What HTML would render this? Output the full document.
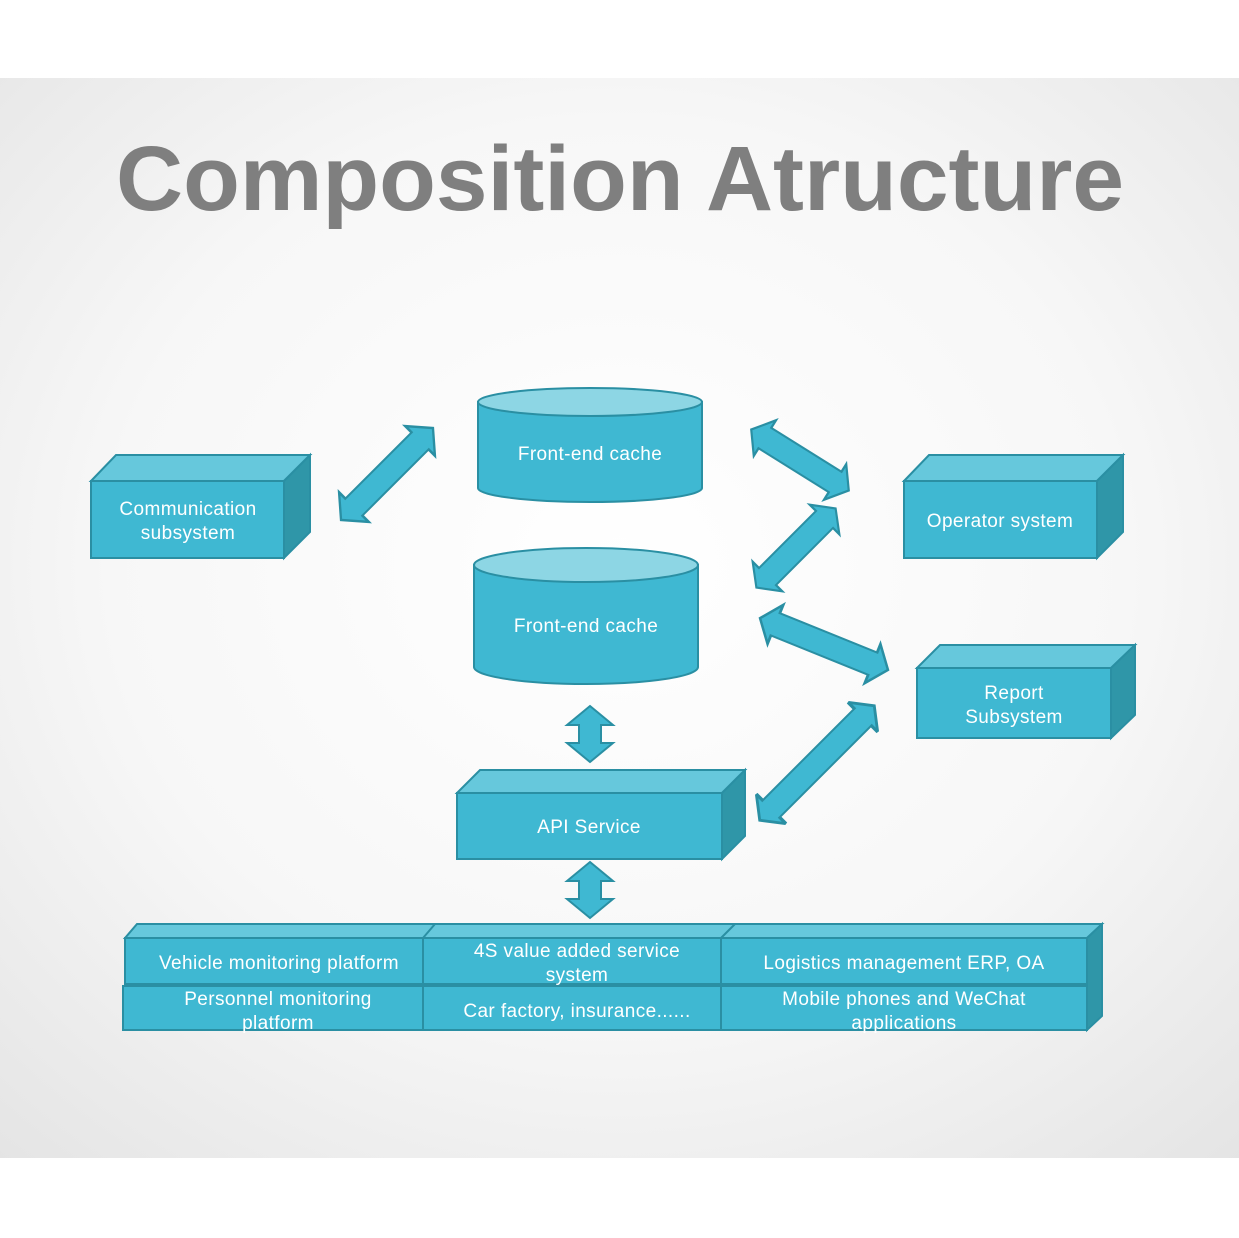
<!DOCTYPE html>
<html><head><meta charset="utf-8"><style>
html,body{margin:0;padding:0;background:#fff}
svg{display:block}
text{font-family:"Liberation Sans",sans-serif;fill:#fff;letter-spacing:0.4px}
</style></head><body>
<svg width="1239" height="1238" viewBox="0 0 1239 1238" xmlns="http://www.w3.org/2000/svg">
<defs>
<radialGradient id="bg" cx="0.5" cy="0.45" r="0.75">
<stop offset="0" stop-color="#ffffff"/><stop offset="0.55" stop-color="#f7f7f7"/><stop offset="1" stop-color="#e4e4e4"/>
</radialGradient>
</defs>
<rect x="0" y="78" width="1239" height="1080" fill="url(#bg)"/>
<text x="620" y="210" text-anchor="middle" font-size="92" font-weight="bold" style="fill:#7f7f7f;letter-spacing:0" textLength="1008" lengthAdjust="spacingAndGlyphs">Composition Atructure</text>

<g fill="#3fb8d2" stroke="#2a8fa3" stroke-width="2">
<polygon transform="translate(387,474) rotate(-45) scale(1.3,1)" points="-50,0 -36,-21 -36,-12 36,-12 36,-21 50,0 36,21 36,12 -36,12 -36,21"/>
<polygon transform="translate(800,460) rotate(32) scale(1.15,1)" points="-50,0 -36,-21 -36,-12 36,-12 36,-21 50,0 36,21 36,12 -36,12 -36,21"/>
<polygon transform="translate(796,548) rotate(-45) scale(1.12,1)" points="-50,0 -36,-21 -36,-12 36,-12 36,-21 50,0 36,21 36,12 -36,12 -36,21"/>
<polygon transform="translate(824,644) rotate(22) scale(1.38,1)" points="-50,0 -38,-21 -38,-12 38,-12 38,-21 50,0 38,21 38,12 -38,12 -38,21"/>
<polygon transform="translate(817,763) rotate(-45) scale(1.62,1)" points="-50,0 -40,-21 -40,-12 40,-12 40,-21 50,0 40,21 40,12 -40,12 -40,21"/>
<polygon points="590,706 613,725 601,725 601,743 613,743 590,762 567,743 579,743 579,725 567,725"/>
<polygon points="590,862 613,881 601,881 601,899 613,899 590,918 567,899 579,899 579,881 567,881"/>

<polygon points="91,481 116,455 310,455 284,481" fill="#66c8dc"/>
<polygon points="284,481 310,455 310,532 284,558" fill="#2f96a8"/>
<rect x="91" y="481" width="193" height="77"/>
<polygon points="904,481 929,455 1123,455 1097,481" fill="#66c8dc"/>
<polygon points="1097,481 1123,455 1123,532 1097,558" fill="#2f96a8"/>
<rect x="904" y="481" width="193" height="77"/>
<polygon points="917,668 940,645 1135,645 1111,668" fill="#66c8dc"/>
<polygon points="1111,668 1135,645 1135,715 1111,738" fill="#2f96a8"/>
<rect x="917" y="668" width="194" height="70"/>
<polygon points="457,793 480,770 745,770 722,793" fill="#66c8dc"/>
<polygon points="722,793 745,770 745,836 722,859" fill="#2f96a8"/>
<rect x="457" y="793" width="265" height="66"/>

<path d="M478,402 L478,488 A112,14 0 0 0 702,488 L702,402 Z"/>
<ellipse cx="590" cy="402" rx="112" ry="14" fill="#8dd6e4"/>
<path d="M474,565 L474,667 A112,17 0 0 0 698,667 L698,565 Z"/>
<ellipse cx="586" cy="565" rx="112" ry="17" fill="#8dd6e4"/>

<polygon points="125,938 137,924 1102,924 1087,938" fill="#66c8dc"/>
<line x1="423" y1="938" x2="435" y2="924"/><line x1="721" y1="938" x2="735" y2="924"/>
<polygon points="1087,938 1102,924 1102,1016 1087,1030" fill="#2f96a8"/>
<rect x="125" y="938" width="298" height="46"/>
<rect x="423" y="938" width="298" height="46"/>
<rect x="721" y="938" width="366" height="46"/>
<rect x="123" y="986" width="300" height="44"/>
<rect x="423" y="986" width="298" height="44"/>
<rect x="721" y="986" width="366" height="44"/>
</g>

<g font-size="19" text-anchor="middle">
<text x="188" y="515">Communication</text>
<text x="188" y="539">subsystem</text>
<text x="1000" y="527">Operator system</text>
<text x="1014" y="699">Report</text>
<text x="1014" y="723">Subsystem</text>
<text x="589" y="833">API Service</text>
<text x="590" y="460">Front-end cache</text>
<text x="586" y="632">Front-end cache</text>
<text x="279" y="969">Vehicle monitoring platform</text>
<text x="577" y="957">4S value added service</text>
<text x="577" y="981">system</text>
<text x="904" y="969">Logistics management ERP, OA</text>
<text x="278" y="1005">Personnel monitoring</text>
<text x="278" y="1029">platform</text>
<text x="577" y="1017">Car factory, insurance......</text>
<text x="904" y="1005">Mobile phones and WeChat</text>
<text x="904" y="1029">applications</text>
</g>
</svg>
</body></html>
